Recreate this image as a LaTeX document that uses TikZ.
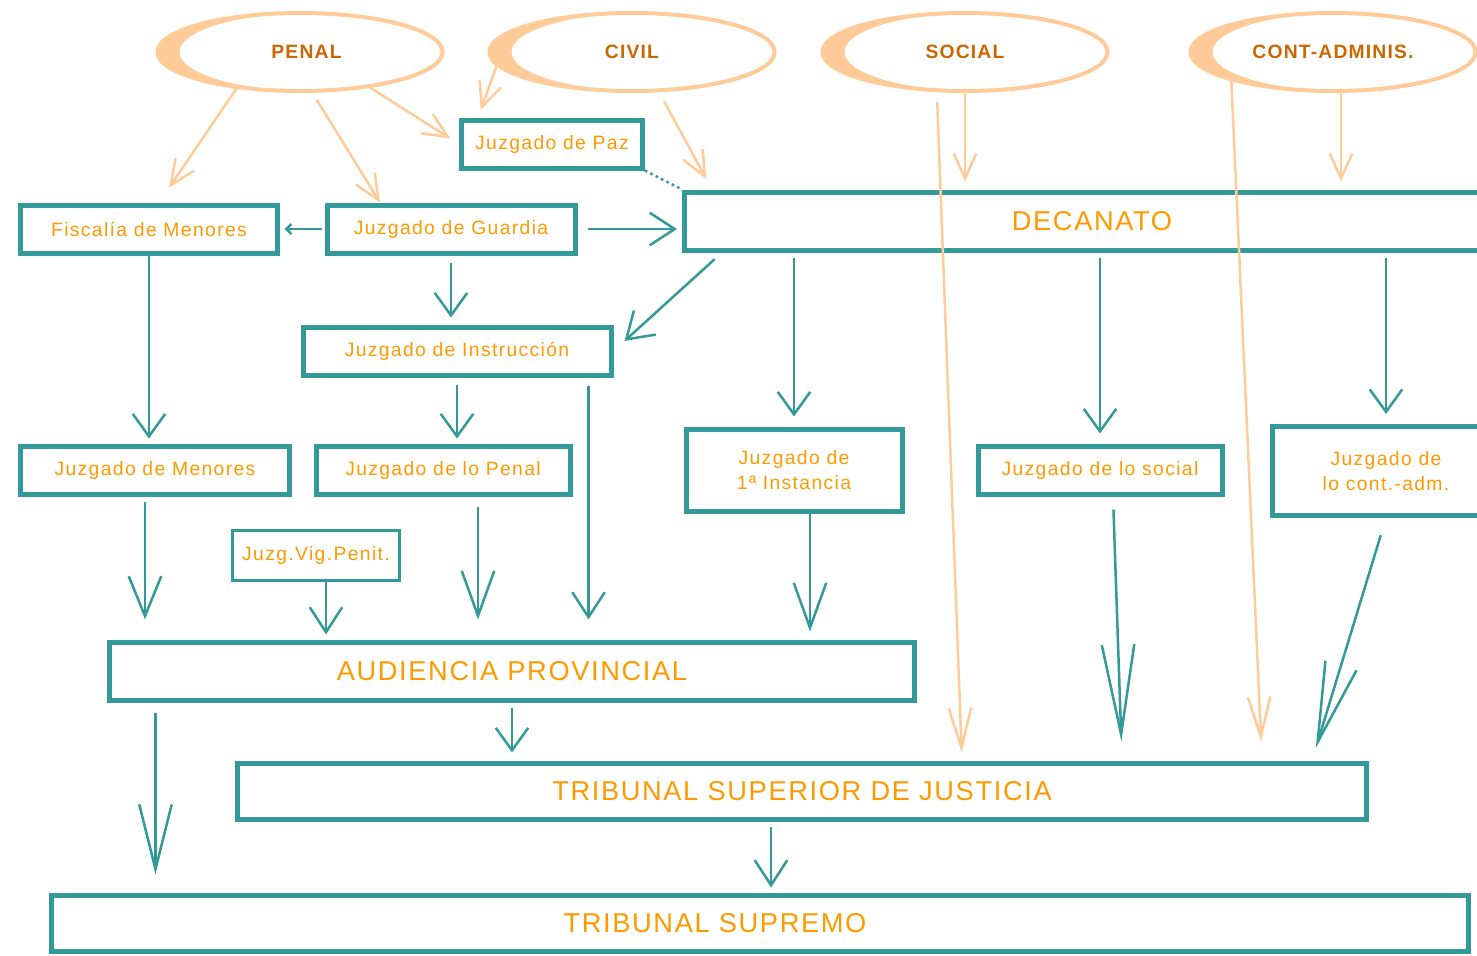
\documentclass[tikz,border=0pt]{standalone}
\usepackage{fontspec}
\usepackage{tikz}
\usetikzlibrary{arrows.meta,shapes.geometric}

\newfontfamily\boxfont[LetterSpace=7]{Liberation Sans}
\newfontfamily\bigfont[LetterSpace=6]{Liberation Sans}
\newfontfamily\areafont[LetterSpace=6]{Liberation Sans}

\definecolor{boxteal}{HTML}{339999}
\definecolor{peach}{HTML}{FFCC99}
\definecolor{textorange}{HTML}{FF9900}
\definecolor{areaorange}{HTML}{CC6600}

\tikzset{
  court/.style={draw=boxteal, line width=1mm, inner sep=0pt, text=textorange,
    align=center, font=\boxfont\fontsize{11}{14}\selectfont},
  bigcourt/.style={court, font=\bigfont\fontsize{15.5}{18}\selectfont},
  area/.style={ellipse, draw=peach, line width=0.8mm, inner sep=0pt,
    minimum width=57mm, minimum height=15.6mm, text=areaorange,
    font=\areafont\bfseries\fontsize{11}{13}\selectfont},
  tarrow/.style={draw=boxteal, line width=0.5mm,
    -{Straight Barb[length=#1,width=6.5mm]}},
  tarrow/.default=4.5mm,
  parrow/.style={draw=peach, line width=0.5mm,
    -{Straight Barb[length=#1,width=4.5mm]}},
  parrow/.default=5mm,
}

\begin{document}
\begin{tikzpicture}[x=0.2mm,y=-0.2mm]
    \useasboundingbox (0,0) rectangle (1477,955);

    % draw areas
    \node[area] (penal) at (300,52) {\hspace*{2.6mm}PENAL};
    \node[area] (civil) at (632,52) {CIVIL};
    \node[area] (social) at (965,52) {SOCIAL};
    \node[area] (contadm) at (1333,52) {CONT-ADMINIS.};

    % thick left side of the areas
    \foreach \area in {penal,civil,social,contadm}
      \fill[peach, even odd rule] (\area.center) ellipse [x radius=28.5mm, y radius=7.8mm]
        ([xshift=2.2mm]\area.center) ellipse [x radius=26.3mm, y radius=7.8mm];

    % draw courts
    \node[court, minimum width=36.2mm, minimum height=9.6mm] (paz) at (552,144) {Juzgado de Paz};
    \node[court, minimum width=51.2mm, minimum height=9.6mm] (fiscalia) at (149,229) {Fiscalía de Menores};
    \node[court, minimum width=49.6mm, minimum height=9.6mm] (guardia) at (451,229) {Juzgado de Guardia};
    \node[bigcourt, minimum width=163mm, minimum height=11.6mm] (decanato) at (1092,221) {DECANATO};
    \node[court, minimum width=61.6mm, minimum height=9.6mm] (instruccion) at (457,351) {Juzgado de Instrucción};
    \node[court, minimum width=53.6mm, minimum height=9.6mm] (menores) at (155,470) {Juzgado de Menores};
    \node[court, minimum width=50.8mm, minimum height=9.6mm] (penaljz) at (443,470) {Juzgado de lo Penal};
    \node[court, minimum width=43.2mm, minimum height=16.4mm] (instancia) at (794,470) {Juzgado de\\1ª Instancia};
    \node[court, minimum width=48.8mm, minimum height=9.6mm] (socialjz) at (1100,470) {Juzgado de lo social};
    \node[court, minimum width=45.6mm, minimum height=17.8mm] (contjz) at (1386,471) {Juzgado de\\lo cont.-adm.};
    \node[court, line width=0.6mm, minimum width=33.4mm, minimum height=10mm] (vigpenit) at (316,555) {Juzg.Vig.Penit.};
    \node[bigcourt, minimum width=160.8mm, minimum height=11.6mm] (audiencia) at (512,671) {AUDIENCIA PROVINCIAL};
    \node[bigcourt, minimum width=225.8mm, minimum height=11.2mm] (tsj) at (802,791) {TRIBUNAL SUPERIOR DE JUSTICIA};
    \node[bigcourt, minimum width=283.2mm, minimum height=11.2mm] (supremo) at (760,923) {\hspace*{-18mm}TRIBUNAL SUPREMO};

    % draw teal connectors
    \draw[tarrow, shorten >=1mm] (fiscalia.south) -- (fiscalia.south |- menores.north);
    \draw[tarrow=5mm, shorten <=2mm, shorten >=1mm] (guardia.east) -- (guardia.east -| decanato.west);
    \draw[tarrow, -{Straight Barb[length=1mm,width=2mm]}, shorten <=0.6mm, shorten >=1mm] (guardia.west) -- (fiscalia.east);
    \draw[boxteal, line width=0.5mm, dotted] (paz.south east) -- (decanato.north west);
    \draw[tarrow, shorten <=1.4mm, shorten >=1.4mm] (guardia.south) -- (guardia.south |- instruccion.north);
    \draw[tarrow=5mm, shorten <=2mm, shorten >=3mm] ([xshift=8mm]decanato.south west) -- (instruccion.east);
    \foreach \court in {instancia,socialjz,contjz}
      \draw[tarrow, shorten <=1mm, shorten >=2mm] (\court.north |- decanato.south) -- (\court.north);
    \draw[tarrow, shorten <=1.4mm, shorten >=1mm] (instruccion.south) -- (instruccion.south |- penaljz.north);
    \draw[tarrow=5mm, shorten <=1.6mm, shorten >=4mm] ([xshift=-5mm]instruccion.south east) -- ([xshift=-5mm]instruccion.south east |- audiencia.north);
    \draw[tarrow=8mm, shorten <=1mm, shorten >=4mm] ([xshift=-2mm]menores.south) -- ([xshift=-2mm]menores.south |- audiencia.north);
    \draw[tarrow=5mm, shorten >=1mm] ([xshift=2mm]vigpenit.south) -- ([xshift=2mm]vigpenit.south |- audiencia.north);
    \draw[tarrow=9mm, shorten <=2mm, shorten >=4mm] ([xshift=7mm]penaljz.south) -- ([xshift=7mm]penaljz.south |- audiencia.north);
    \draw[tarrow=9mm, shorten >=1.6mm] ([xshift=3.2mm]instancia.south) -- ([xshift=3.2mm]instancia.south |- audiencia.north);
    \draw[tarrow, shorten <=1mm, shorten >=1.6mm] (audiencia.south) -- (audiencia.south |- tsj.north);
    \draw[tarrow=13mm, shorten <=2mm, shorten >=3.6mm] ([xshift=9.6mm]audiencia.south west) -- ([xshift=9.6mm]audiencia.south west |- supremo.north);
    \draw[tarrow=5mm, shorten <=1mm, shorten >=1mm] ([xshift=-6.2mm]tsj.south) -- ([xshift=-6.2mm]tsj.south |- supremo.north);
    \draw[tarrow=18mm, shorten <=2.6mm, shorten >=3.8mm] ([xshift=2.6mm]socialjz.south) -- ([xshift=64mm]tsj.north);
    \draw[tarrow=16mm, shorten <=3.6mm, shorten >=2.6mm] (contjz.south) -- ([xshift=102mm]tsj.north);

    % draw peach connectors
    \draw[parrow, shorten >=3.6mm] (penal.210) -- ([xshift=2mm]fiscalia.north);
    \draw[parrow, shorten <=1.6mm] (penal.287) -- ([xshift=-14.2mm]guardia.north);
    \draw[parrow, shorten >=2mm] (penal.333) -- (paz.west);
    \draw[parrow, shorten >=1.6mm] (civil.186) -- ([xshift=3.8mm]paz.north west);
    \draw[parrow, shorten <=2mm, shorten >=2.4mm] (civil.304) -- ([xshift=6mm]decanato.north west);
    \draw[parrow, shorten >=1.6mm] (social.south) -- (social.south |- decanato.north);
    \draw[parrow, shorten >=1.6mm] ([xshift=1.6mm]contadm.south) -- ([xshift=1.6mm]contadm.south |- decanato.north);
    \draw[parrow=8mm, shorten <=2mm, shorten >=1.6mm] (social.235) -- ([xshift=32mm]tsj.north);
    \draw[parrow=8mm, shorten >=3.8mm] (contadm.196) -- ([xshift=92mm]tsj.north);

\end{tikzpicture}
\end{document}
